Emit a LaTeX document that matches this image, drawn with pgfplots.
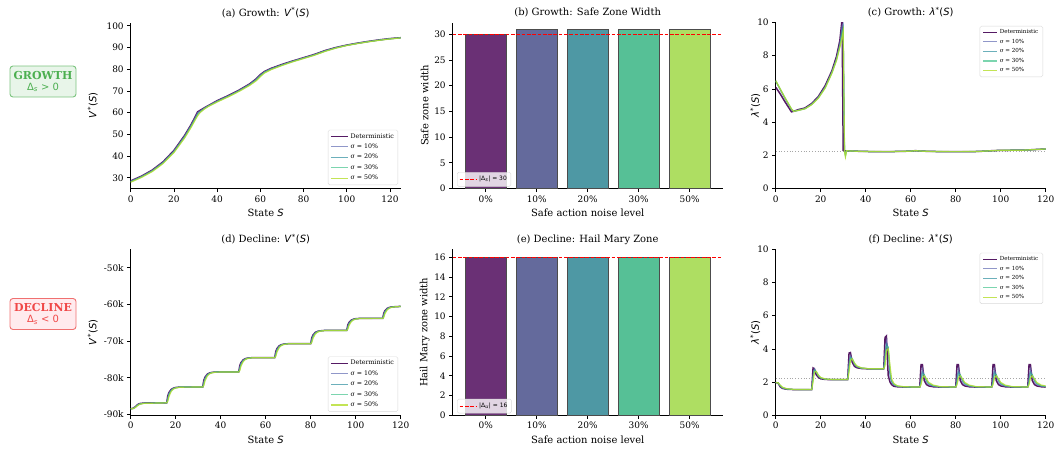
\documentclass[border=0pt]{standalone}
\usepackage{pgfplots}
\pgfplotsset{compat=1.18}
\usepackage{pgfplotstable}
\usepackage{fontspec}
\setmainfont{DejaVu Serif}
\newfontfamily\dvs{DejaVu Sans}

\definecolor{cdet}{HTML}{440154}
\definecolor{cten}{HTML}{6B74B8}
\definecolor{ctwenty}{HTML}{2F8F9F}
\definecolor{cthirty}{HTML}{45C48E}
\definecolor{cfifty}{HTML}{B5DE2B}
\definecolor{bzero}{HTML}{6A3075}
\definecolor{bten}{HTML}{646A9C}
\definecolor{btwenty}{HTML}{4E98A4}
\definecolor{bthirty}{HTML}{56C096}
\definecolor{bfifty}{HTML}{AEDE62}
\definecolor{growtext}{HTML}{4CAF50}
\definecolor{growedge}{HTML}{7CC47F}
\definecolor{growfill}{HTML}{E8F5E9}
\definecolor{decltext}{HTML}{F04848}
\definecolor{decledge}{HTML}{F07070}
\definecolor{declfill}{HTML}{FFEBEE}

\newcommand{\Vs}{{\dvs\textit{V}\textsuperscript{*}(\textit{S})}}
\newcommand{\Ls}{{\dvs\textit{λ}\textsuperscript{*}(\textit{S})}}

\pgfplotstableread{
S det s10 s20 s30 s50
0 28.6 28.45 28.3 28.15 28.0
5 30.8 30.65 30.5 30.35 30.2
10 33.6 33.4 33.25 33.1 32.9
15 37.4 37.2 37.0 36.8 36.6
20 42.6 42.35 42.1 41.85 41.6
25 49.6 49.3 49.0 48.7 48.4
28 54.6 54.3 54.0 53.6 53.3
30 58.4 58.0 57.6 57.2 56.9
31 60.4 60.0 59.5 59.0 58.6
32 61.0 60.7 60.4 60.1 59.9
34 62.2 62.05 61.9 61.75 61.6
36 63.3 63.2 63.1 63.0 62.9
40 65.5 65.35 65.2 65.05 64.9
45 67.8 67.65 67.5 67.35 67.2
50 70.3 70.15 70.0 69.85 69.7
55 73.2 73.05 72.85 72.7 72.5
58 75.5 75.3 75.1 74.85 74.6
60 77.5 77.3 77.0 76.8 76.6
62 79.0 78.85 78.7 78.5 78.3
65 80.4 80.25 80.1 79.95 79.8
70 82.2 82.07 81.95 81.82 81.7
75 83.8 83.7 83.6 83.5 83.4
80 85.3 85.2 85.1 85.0 84.9
85 86.8 86.7 86.6 86.5 86.4
90 88.6 88.5 88.4 88.3 88.2
95 90.0 89.92 89.85 89.77 89.7
100 91.1 91.05 91.0 90.95 90.9
105 92.0 91.95 91.9 91.85 91.8
110 92.8 92.75 92.7 92.65 92.6
115 93.5 93.45 93.4 93.35 93.3
120 94.1 94.05 94.0 93.95 93.9
125 94.5 94.47 94.45 94.42 94.4
}\tabA

\pgfplotstableread{
S det s10 s20 s30 s50
0 6.10 6.45 6.48 6.50 6.50
2 5.70 5.95 5.97 6.00 6.00
4 5.25 5.45 5.47 5.50 5.50
7 4.62 4.75 4.77 4.79 4.80
8 4.65 4.64 4.64 4.65 4.65
10 4.75 4.72 4.71 4.70 4.70
13 4.85 4.82 4.81 4.80 4.80
16 5.12 5.08 5.07 5.06 5.05
19 5.55 5.50 5.48 5.46 5.45
22 6.20 6.12 6.10 6.07 6.05
25 7.10 7.02 7.00 6.97 6.95
27 7.95 7.82 7.78 7.74 7.70
28.5 8.90 8.70 8.62 8.55 8.50
29.5 10.20 9.80 9.50 9.30 9.10
30 2.30 9.95 9.75 9.60 9.45
30.6 2.28 2.30 2.25 2.20 2.20
31 2.27 2.10 2.00 1.95 1.90
31.5 2.27 2.28 2.28 2.28 2.28
32 2.27 2.27 2.27 2.27 2.27
35 2.25 2.25 2.25 2.25 2.25
40 2.23 2.23 2.23 2.23 2.23
50 2.22 2.22 2.22 2.22 2.22
60 2.25 2.25 2.25 2.25 2.25
62 2.28 2.28 2.28 2.28 2.28
65 2.25 2.25 2.25 2.25 2.25
70 2.23 2.23 2.23 2.23 2.23
80 2.22 2.22 2.22 2.22 2.22
90 2.23 2.23 2.23 2.23 2.23
95 2.27 2.27 2.27 2.27 2.27
100 2.30 2.30 2.30 2.30 2.30
110 2.31 2.31 2.31 2.31 2.31
120 2.38 2.38 2.38 2.38 2.38
}\tabC

\pgfplotstableread{
S det s10 s20 s30 s50
0 -88.40 -88.42 -88.43 -88.44 -88.45
1 -88.30 -88.34 -88.36 -88.38 -88.40
2 -87.90 -87.96 -88.00 -88.05 -88.10
3 -87.30 -87.38 -87.44 -87.52 -87.60
4 -87.00 -87.05 -87.10 -87.15 -87.20
6 -86.85 -86.87 -86.89 -86.92 -86.95
16 -86.80 -86.80 -86.80 -86.80 -86.80
16.5 -84.87 -85.30 -85.73 -86.03 -86.37
17 -84.00 -84.22 -84.44 -84.65 -85.08
18 -83.15 -83.27 -83.36 -83.49 -83.70
19 -82.80 -82.84 -82.89 -82.97 -83.06
20 -82.63 -82.67 -82.67 -82.72 -82.76
22 -82.50 -82.50 -82.50 -82.50 -82.54
32 -82.50 -82.50 -82.50 -82.50 -82.50
32.5 -80.66 -81.07 -81.48 -81.76 -82.09
33 -79.84 -80.04 -80.25 -80.45 -80.86
34 -79.02 -79.14 -79.22 -79.34 -79.55
35 -78.69 -78.73 -78.77 -78.85 -78.93
36 -78.52 -78.56 -78.56 -78.61 -78.65
38 -78.40 -78.40 -78.40 -78.40 -78.44
48 -78.40 -78.40 -78.40 -78.40 -78.40
48.5 -76.65 -77.04 -77.43 -77.70 -78.01
49 -75.87 -76.06 -76.26 -76.45 -76.84
50 -75.09 -75.20 -75.28 -75.40 -75.59
51 -74.77 -74.81 -74.85 -74.93 -74.99
52 -74.62 -74.66 -74.66 -74.70 -74.73
54 -74.50 -74.50 -74.50 -74.50 -74.54
64 -74.50 -74.50 -74.50 -74.50 -74.50
64.5 -72.79 -73.17 -73.55 -73.82 -74.12
65 -72.03 -72.22 -72.41 -72.60 -72.98
66 -71.27 -71.38 -71.46 -71.57 -71.76
67 -70.97 -71.00 -71.04 -71.12 -71.19
68 -70.81 -70.85 -70.85 -70.89 -70.93
70 -70.70 -70.70 -70.70 -70.70 -70.74
80 -70.70 -70.70 -70.70 -70.70 -70.70
80.5 -69.08 -69.44 -69.80 -70.05 -70.34
81 -68.36 -68.54 -68.72 -68.90 -69.26
82 -67.64 -67.75 -67.82 -67.93 -68.11
83 -67.35 -67.39 -67.42 -67.50 -67.57
84 -67.21 -67.24 -67.24 -67.28 -67.32
86 -67.10 -67.10 -67.10 -67.10 -67.14
96 -67.10 -67.10 -67.10 -67.10 -67.10
96.5 -65.62 -65.95 -66.28 -66.51 -66.77
97 -64.96 -65.12 -65.29 -65.45 -65.78
98 -64.30 -64.39 -64.46 -64.56 -64.72
99 -64.03 -64.06 -64.10 -64.16 -64.23
100 -63.90 -63.93 -63.93 -63.97 -64.00
102 -63.80 -63.80 -63.80 -63.80 -63.83
112 -63.80 -63.80 -63.80 -63.80 -63.80
112.5 -62.36 -62.68 -63.00 -63.22 -63.48
113 -61.72 -61.88 -62.04 -62.20 -62.52
114 -61.08 -61.18 -61.24 -61.34 -61.50
115 -60.82 -60.86 -60.89 -60.95 -61.02
116 -60.70 -60.73 -60.73 -60.76 -60.79
118 -60.60 -60.60 -60.60 -60.60 -60.63
120 -60.55 -60.56 -60.56 -60.57 -60.58
}\tabD

\pgfplotstableread{
S det s10 s20 s30 s50
0 1.97 1.97 1.97 1.97 1.97
1 1.95 1.96 1.96 1.96 1.96
2 1.72 1.76 1.78 1.80 1.82
3 1.62 1.64 1.66 1.67 1.69
5 1.57 1.58 1.58 1.59 1.60
8 1.55 1.55 1.55 1.56 1.56
16 1.55 1.55 1.55 1.55 1.56
16.6 2.85 2.40 2.30 2.20 2.00
17.2 2.80 2.80 2.75 2.70 2.60
18 2.45 2.60 2.62 2.62 2.65
19 2.28 2.35 2.38 2.40 2.42
20 2.20 2.24 2.25 2.26 2.28
22 2.16 2.17 2.17 2.18 2.19
25 2.15 2.15 2.15 2.16 2.16
32 2.15 2.15 2.15 2.15 2.16
32.6 3.75 3.20 3.00 2.85 2.60
33.2 3.78 3.60 3.50 3.45 3.30
34 3.20 3.40 3.40 3.42 3.40
35 2.95 3.05 3.10 3.12 3.15
36 2.87 2.92 2.94 2.96 2.98
38 2.82 2.84 2.84 2.85 2.86
41 2.80 2.80 2.80 2.81 2.81
48 2.80 2.80 2.80 2.80 2.80
48.6 4.70 3.80 3.50 3.30 3.00
49.2 4.78 4.50 4.30 4.15 3.90
50 2.40 4.00 4.10 4.10 4.00
50.8 2.00 2.30 2.50 2.70 3.00
51.5 1.85 2.00 2.05 2.10 2.20
52.5 1.75 1.82 1.85 1.88 1.92
54 1.72 1.74 1.75 1.76 1.78
57 1.70 1.70 1.71 1.71 1.72
64 1.70 1.70 1.70 1.70 1.70
64.6 3.05 2.30 2.10 1.95 1.85
65.2 3.05 2.80 2.60 2.45 2.25
66 2.10 2.40 2.45 2.45 2.38
67 1.85 2.00 2.10 2.15 2.20
68 1.77 1.85 1.90 1.93 1.98
70 1.72 1.75 1.77 1.79 1.82
73 1.70 1.70 1.71 1.72 1.73
80 1.70 1.70 1.70 1.70 1.70
80.6 3.05 2.30 2.10 1.95 1.85
81.2 3.05 2.80 2.60 2.45 2.25
82 2.10 2.40 2.45 2.45 2.38
83 1.85 2.00 2.10 2.15 2.20
84 1.77 1.85 1.90 1.93 1.98
86 1.72 1.75 1.77 1.79 1.82
89 1.70 1.70 1.71 1.72 1.73
96 1.70 1.70 1.70 1.70 1.70
96.6 3.05 2.30 2.10 1.95 1.85
97.2 3.05 2.80 2.60 2.45 2.25
98 2.10 2.40 2.45 2.45 2.38
99 1.85 2.00 2.10 2.15 2.20
100 1.77 1.85 1.90 1.93 1.98
102 1.72 1.75 1.77 1.79 1.82
105 1.70 1.70 1.71 1.72 1.73
112 1.70 1.70 1.70 1.70 1.70
112.6 3.05 2.30 2.10 1.95 1.85
113.2 3.05 2.80 2.60 2.45 2.25
114 2.10 2.40 2.45 2.45 2.38
115 1.85 2.00 2.10 2.15 2.20
116 1.77 1.85 1.90 1.93 1.98
118 1.72 1.75 1.77 1.79 1.82
120 1.70 1.72 1.73 1.75 1.77
}\tabF

\pgfplotsset{
  panel/.style={
    scale only axis, width=270bp, height=166bp,
    axis x line*=bottom, axis y line*=left,
    axis line style={-, line width=0.8bp},
    tick align=outside, tick pos=left,
    major tick length=3.5bp,
    every tick/.style={black, line width=0.8bp},
    tick label style={font=\fontsize{9}{10}\selectfont},
    /pgf/number format/assume math mode=true,
    label style={font=\fontsize{10}{12}\selectfont},
    every axis title/.style={at={(axis description cs:0.5,1.0)}, anchor=base, yshift=6.5bp, font=\fontsize{10}{12}\selectfont},
    xlabel style={at={(axis description cs:0.5,-0.145)}, anchor=center},
    legend cell align=left,
  },
  pdet/.style={cdet, line width=1.5bp, opacity=0.9},
  pten/.style={cten, line width=1bp, opacity=0.75},
  ptwenty/.style={ctwenty, line width=1bp, opacity=0.7},
  pthirty/.style={cthirty, line width=1.1bp, opacity=0.7},
  pfifty/.style={cfifty, line width=1.2bp, opacity=0.8},
  biglegend/.style={legend style={font=\fontsize{6.3}{7}\selectfont, draw=black!15, rounded corners=1.5bp, fill=white, fill opacity=0.8, text opacity=1, draw opacity=1, inner xsep=2bp, inner ysep=1.5bp, row sep=0.3bp},
    legend image code/.code={\draw[##1] (0bp,0bp) -- (17bp,0bp);}},
  smalllegend/.style={legend style={font=\fontsize{5.6}{6}\selectfont, draw=black!15, rounded corners=1.5bp, fill=white, fill opacity=0.8, text opacity=1, draw opacity=1, inner xsep=2.5bp, inner ysep=1.5bp, row sep=-0.1bp},
    legend image code/.code={\draw[##1] (0bp,0bp) -- (14bp,0bp);}},
  barlegend/.style={legend style={font=\dvs\fontsize{6}{7}\selectfont, draw=black!15, rounded corners=1.5bp, fill=white, fill opacity=0.8, text opacity=1, draw opacity=1, inner xsep=2bp, inner ysep=2bp, at={(axis description cs:0.016,0.012)}, anchor=south west},
    legend image code/.code={\draw[red, line width=1bp, dash pattern=on 3.7bp off 1.6bp] (0bp,0bp) -- (17bp,0bp);}},
  bar/.style={ybar, bar width=0.8, bar shift=0pt, draw=black!70, line width=0.9bp, forget plot},
}

\begin{document}
\begin{tikzpicture}
\path[use as bounding box] (0,0) rectangle (1057bp,-451bp);

% side labels
\node[draw=growedge, fill=growfill, rounded corners=3bp, line width=0.9bp, align=center,
      minimum width=66bp, minimum height=31bp, inner sep=1.5bp, text=growtext]
  at (43bp,-81.5bp) {{\fontsize{11}{12}\selectfont\bfseries GROWTH}\\[-1bp]{\dvs\fontsize{10}{11}\selectfont Δ\textsubscript{\textit{s}} > 0}};
\node[draw=decledge, fill=declfill, rounded corners=3bp, line width=0.9bp, align=center,
      minimum width=66bp, minimum height=31bp, inner sep=1.5bp, text=decltext]
  at (43bp,-314bp) {{\fontsize{11}{12}\selectfont\bfseries DECLINE}\\[-1bp]{\dvs\fontsize{10}{11}\selectfont Δ\textsubscript{\textit{s}} < 0}};

% (a)
\begin{axis}[panel, biglegend, at={(130.7bp,-22.5bp)}, anchor=north west,
  xmin=0, xmax=125, ymin=25.1, ymax=101.5,
  xtick={0,20,...,120}, ytick={30,40,...,100},
  title={(a) Growth: \Vs}, xlabel={State {\dvs\textit{S}}}, ylabel={\Vs},
  ylabel style={at={(axis description cs:-0.141,0.5)}, anchor=center},
  legend style={at={(axis description cs:0.99,0.021)}, anchor=south east}]
\addplot[pdet] table[x=S,y=det]{\tabA}; \addlegendentry{Deterministic}
\addplot[pten] table[x=S,y=s10]{\tabA}; \addlegendentry{σ = 10\%}
\addplot[ptwenty] table[x=S,y=s20]{\tabA}; \addlegendentry{σ = 20\%}
\addplot[pthirty] table[x=S,y=s30]{\tabA}; \addlegendentry{σ = 30\%}
\addplot[pfifty] table[x=S,y=s50]{\tabA}; \addlegendentry{σ = 50\%}
\end{axis}

% (b)
\begin{axis}[panel, barlegend, at={(452.7bp,-22.5bp)}, anchor=north west,
  xmin=-0.65, xmax=4.65, ymin=0, ymax=32.3,
  xtick={0,1,2,3,4}, xticklabels={0\%,10\%,20\%,30\%,50\%}, ytick={0,5,...,30},
  title={(b) Growth: Safe Zone Width}, xlabel={Safe action noise level}, ylabel={Safe zone width},
  ylabel style={at={(axis description cs:-0.104,0.5)}, anchor=center}]
\addplot[bar, fill=bzero] coordinates {(0,30)};
\addplot[bar, fill=bten] coordinates {(1,31)};
\addplot[bar, fill=btwenty] coordinates {(2,31)};
\addplot[bar, fill=bthirty] coordinates {(3,31)};
\addplot[bar, fill=bfifty] coordinates {(4,31)};
\addplot[red, line width=1bp, dash pattern=on 3.7bp off 1.6bp] coordinates {(-0.65,30) (4.65,30)};
\addlegendentry{|Δ\textsubscript{\textit{s}}| = 30}
\end{axis}

% (c)
\begin{axis}[panel, smalllegend, at={(775.7bp,-22.5bp)}, anchor=north west,
  xmin=0, xmax=120, ymin=0, ymax=10,
  xtick={0,20,...,120}, ytick={0,2,...,10},
  title={(c) Growth: \Ls}, xlabel={State {\dvs\textit{S}}}, ylabel={\Ls},
  ylabel style={at={(axis description cs:-0.076,0.5)}, anchor=center},
  legend style={at={(axis description cs:0.99,0.979)}, anchor=north east}]
\addplot[gray!70, line width=0.8bp, dotted, forget plot] coordinates {(0,2.25) (120,2.25)};
\addplot[pdet] table[x=S,y=det]{\tabC}; \addlegendentry{Deterministic}
\addplot[pten] table[x=S,y=s10]{\tabC}; \addlegendentry{σ = 10\%}
\addplot[ptwenty] table[x=S,y=s20]{\tabC}; \addlegendentry{σ = 20\%}
\addplot[pthirty] table[x=S,y=s30]{\tabC}; \addlegendentry{σ = 30\%}
\addplot[pfifty] table[x=S,y=s50]{\tabC}; \addlegendentry{σ = 50\%}
\end{axis}

% (d)
\begin{axis}[panel, biglegend, at={(130.7bp,-249.3bp)}, anchor=north west,
  xmin=0, xmax=120, ymin=-90.2, ymax=-45,
  xtick={0,20,...,120}, ytick={-90,-80,-70,-60,-50},
  yticklabels={-90k,-80k,-70k,-60k,-50k},
  title={(d) Decline: \Vs}, xlabel={State {\dvs\textit{S}}}, ylabel={\Vs},
  ylabel style={at={(axis description cs:-0.141,0.5)}, anchor=center},
  legend style={at={(axis description cs:0.99,0.021)}, anchor=south east}]
\addplot[pdet] table[x=S,y=det]{\tabD}; \addlegendentry{Deterministic}
\addplot[pten] table[x=S,y=s10]{\tabD}; \addlegendentry{σ = 10\%}
\addplot[ptwenty] table[x=S,y=s20]{\tabD}; \addlegendentry{σ = 20\%}
\addplot[pthirty] table[x=S,y=s30]{\tabD}; \addlegendentry{σ = 30\%}
\addplot[pfifty] table[x=S,y=s50]{\tabD}; \addlegendentry{σ = 50\%}
\end{axis}

% (e)
\begin{axis}[panel, barlegend, at={(452.7bp,-249.3bp)}, anchor=north west,
  xmin=-0.65, xmax=4.65, ymin=0, ymax=16.8,
  xtick={0,1,2,3,4}, xticklabels={0\%,10\%,20\%,30\%,50\%}, ytick={0,2,...,16},
  title={(e) Decline: Hail Mary Zone}, xlabel={Safe action noise level}, ylabel={Hail Mary zone width},
  ylabel style={at={(axis description cs:-0.104,0.5)}, anchor=center}]
\addplot[bar, fill=bzero] coordinates {(0,16)};
\addplot[bar, fill=bten] coordinates {(1,16)};
\addplot[bar, fill=btwenty] coordinates {(2,16)};
\addplot[bar, fill=bthirty] coordinates {(3,16)};
\addplot[bar, fill=bfifty] coordinates {(4,16)};
\addplot[red, line width=1bp, dash pattern=on 3.7bp off 1.6bp] coordinates {(-0.65,16) (4.65,16)};
\addlegendentry{|Δ\textsubscript{\textit{u}}| = 16}
\end{axis}

% (f)
\begin{axis}[panel, smalllegend, at={(775.7bp,-249.3bp)}, anchor=north west,
  xmin=0, xmax=120, ymin=0, ymax=10,
  xtick={0,20,...,120}, ytick={0,2,...,10},
  title={(f) Decline: \Ls}, xlabel={State {\dvs\textit{S}}}, ylabel={\Ls},
  ylabel style={at={(axis description cs:-0.076,0.5)}, anchor=center},
  legend style={at={(axis description cs:0.99,0.979)}, anchor=north east}]
\addplot[gray!70, line width=0.8bp, dotted, forget plot] coordinates {(0,2.22) (120,2.22)};
\addplot[pdet] table[x=S,y=det]{\tabF}; \addlegendentry{Deterministic}
\addplot[pten] table[x=S,y=s10]{\tabF}; \addlegendentry{σ = 10\%}
\addplot[ptwenty] table[x=S,y=s20]{\tabF}; \addlegendentry{σ = 20\%}
\addplot[pthirty] table[x=S,y=s30]{\tabF}; \addlegendentry{σ = 30\%}
\addplot[pfifty] table[x=S,y=s50]{\tabF}; \addlegendentry{σ = 50\%}
\end{axis}
\end{tikzpicture}
\end{document}
